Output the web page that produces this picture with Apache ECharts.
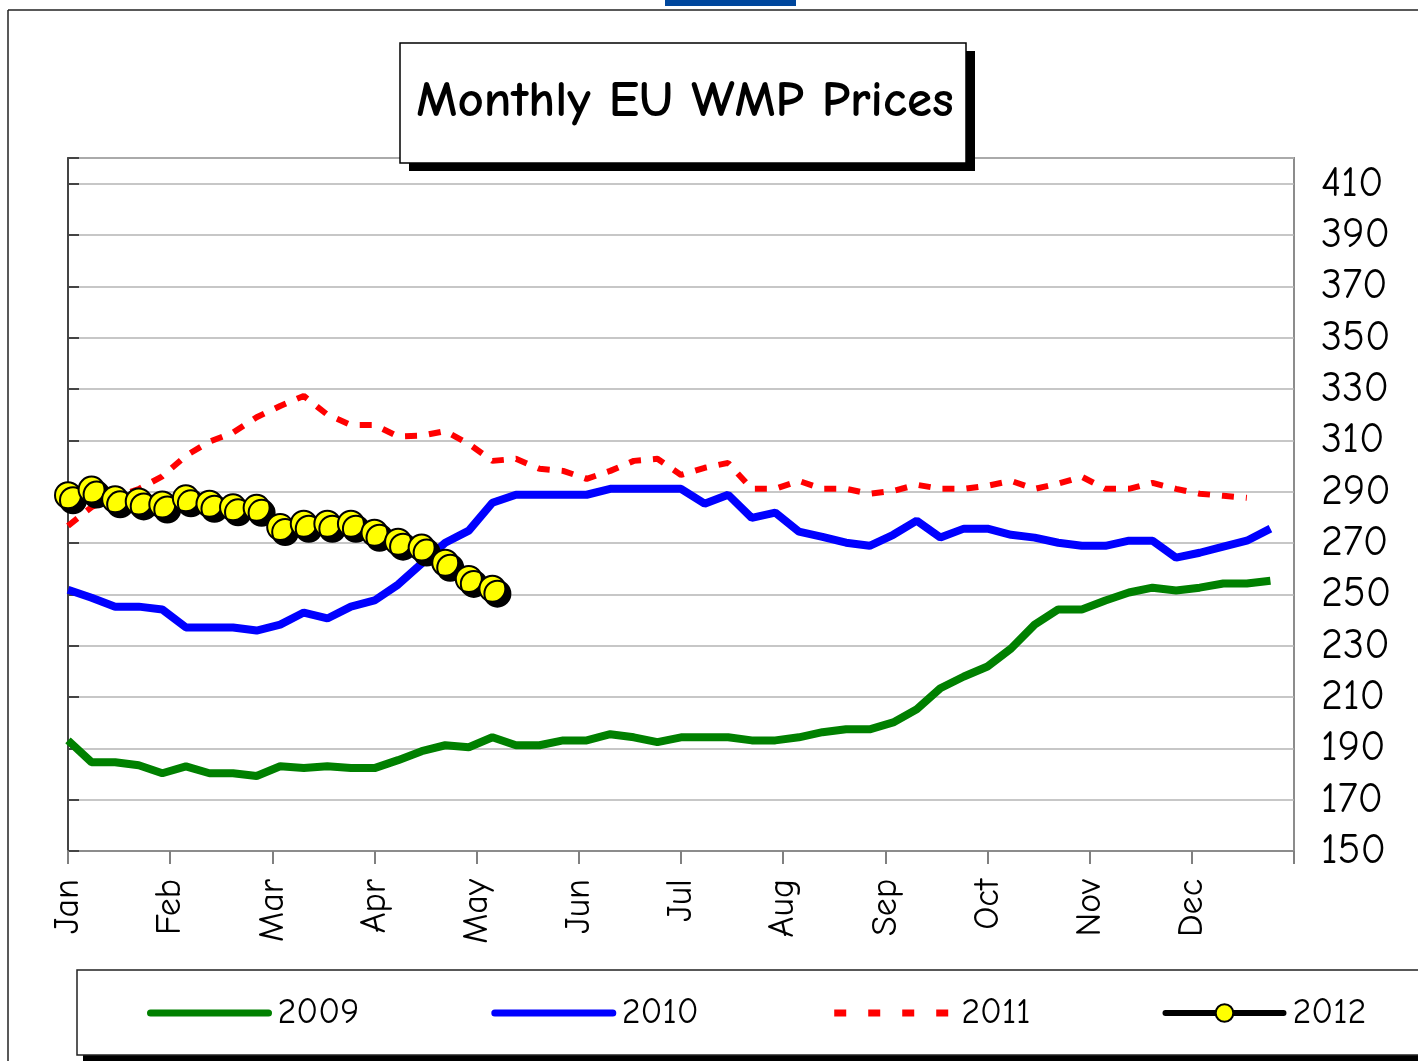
<!DOCTYPE html>
<html>
<head>
<meta charset="utf-8">
<title>Monthly EU WMP Prices</title>
<script src="https://cdn.jsdelivr.net/npm/echarts@6.0.0/dist/echarts.min.js"></script>
<style>
  html, body { margin: 0; padding: 0; background: #fff; }
  #chart { width: 1418px; height: 1061px; }
</style>
</head>
<body>
<div id="chart"></div>
<script>
// weekly prices, week 0 = start of Jan
var months = ['Jan', 'Feb', 'Mar', 'Apr', 'May', 'Jun', 'Jul', 'Aug', 'Sep', 'Oct', 'Nov', 'Dec'];
var yTicks = [150, 170, 190, 210, 230, 250, 270, 290, 310, 330, 350, 370, 390, 410];

var y2009 = [193.1, 184.6, 184.6, 183.4, 180.3, 183, 180.3, 180.3, 179.2, 183, 182.3, 183, 182.3,
  182.3, 185.4, 188.9, 191.2, 190.4, 194.3, 191.2, 191.2, 193.1, 193.1, 195.5, 194.3, 192.4,
  194.3, 194.3, 194.3, 193.1, 193.1, 194.3, 196.3, 197.4, 197.4, 200.1, 205.2, 213.4, 218,
  221.9, 228.9, 238.2, 244.1, 244.1, 247.6, 250.7, 252.6, 251.5, 252.6, 254.2, 254.2, 255.3];
var y2010 = [251.8, 248.7, 245.2, 245.2, 244.1, 237.1, 237.1, 237.1, 235.9, 238.2, 242.9, 240.6,
  245.2, 247.6, 253.8, 262, 270.1, 274.8, 285.7, 288.8, 288.8, 288.8, 288.8, 291.1, 291.1, 291.1,
  291.1, 285.3, 288.8, 279.8, 281.8, 274.4, 272.4, 270.1, 268.9, 273.2, 278.7, 272.1, 275.6,
  275.6, 273.2, 272.1, 270.1, 268.9, 268.9, 270.9, 270.9, 264.3, 266.2, 268.6, 270.9, 275.6];
var y2011 = [276.7, 284, 288, 291, 296, 304, 309.5, 313, 319, 323.4, 327.3, 320, 316, 316, 311.5,
  311.8, 313.6, 308.6, 302, 302.8, 298.9, 298.1, 295, 298.1, 302, 302.8, 296.5, 299.3, 301.2,
  291.1, 291.1, 294.2, 291.1, 291.1, 289.2, 290.3, 292.7, 291.1, 291.1, 292.3, 294.2, 291.1,
  293.1, 295.8, 291.1, 291.1, 293.4, 291.1, 289.2, 288.4, 287.6];
var y2012 = [288.6, 290.8, 287, 286.2, 285, 287.4, 285.3, 283.9, 283.7, 276.2, 277.5, 277.5,
  277.5, 274, 270.5, 268.2, 262.3, 256, 252.2];

function weekly(values) {
  return values.map(function (v, i) { return [i, v]; });
}

var FONT = '"Comic Sans MS", "Comic Neue", "DejaVu Sans", sans-serif';
var weekSpan = 52;

var chart = echarts.init(document.getElementById('chart'), null, { renderer: 'canvas' });

var noMark = { opacity: 0 };

var option = {
  backgroundColor: '#ffffff',
  animation: false,
  grid: {
    left: 68, top: 158, right: 124, bottom: 210,
    show: true, borderColor: '#8c8c8c', borderWidth: 2, backgroundColor: 'transparent'
  },
  xAxis: {
    type: 'value',
    min: 0, max: weekSpan, interval: weekSpan / 12,
    axisLine: { show: true, lineStyle: { color: '#8c8c8c', width: 2 } },
    axisTick: { show: true, length: 13, lineStyle: { color: '#808080', width: 2 } },
    splitLine: { show: false },
    axisLabel: {
      rotate: 90, margin: 28, color: '#000', fontSize: 36, fontFamily: FONT,
      formatter: function (v) {
        var m = Math.round(v / (weekSpan / 12));
        return m < 12 ? months[m] : '';
      }
    }
  },
  yAxis: {
    type: 'value', position: 'right',
    min: yTicks[0], max: 420, interval: 20,
    axisLine: { show: true, lineStyle: { color: '#444', width: 2 } },
    axisTick: { show: true, inside: false, length: 11, lineStyle: { color: '#444', width: 2 } },
    splitLine: { show: true, lineStyle: { color: '#b4b4b4', width: 1.5 } },
    axisLabel: {
      margin: 27, color: '#000', fontSize: 42, fontFamily: FONT,
      formatter: function (v) { return yTicks.indexOf(v) >= 0 ? String(v) : ''; }
    }
  },
  legend: {
    left: 142, top: 990, itemWidth: 118, itemHeight: 22, itemGap: 132,
    textStyle: { fontSize: 36, fontFamily: FONT, color: '#000', padding: [0, 0, 0, 4] },
    data: [
      { name: '2009', itemStyle: noMark, lineStyle: { width: 7, cap: 'round' } },
      { name: '2010', itemStyle: noMark, lineStyle: { width: 7, cap: 'round' } },
      { name: '2011', itemStyle: noMark, lineStyle: { width: 7, type: [12, 22], cap: 'butt' } },
      { name: '2012', lineStyle: { width: 6, cap: 'round' }, itemStyle: { shadowOffsetX: 0, shadowOffsetY: 0, borderWidth: 2 } }
    ]
  },
  series: [
    {
      name: '2009', type: 'line', data: weekly(y2009), symbol: 'none',
      lineStyle: { color: '#008000', width: 8 }, itemStyle: { color: '#008000' }, z: 2
    },
    {
      name: '2010', type: 'line', data: weekly(y2010), symbol: 'none',
      lineStyle: { color: '#0000ff', width: 8 }, itemStyle: { color: '#0000ff' }, z: 3
    },
    {
      name: '2011', type: 'line', data: weekly(y2011), symbol: 'none',
      lineStyle: { color: '#ff0000', width: 6, type: [12, 12], cap: 'butt' },
      itemStyle: { color: '#ff0000' }, z: 4
    },
    {
      name: '2012', type: 'line', data: weekly(y2012),
      symbol: 'circle', symbolSize: 26,
      lineStyle: { color: '#000', width: 4 },
      itemStyle: {
        color: '#ffff00', borderColor: '#000', borderWidth: 2,
        shadowColor: '#000', shadowBlur: 0, shadowOffsetX: 5, shadowOffsetY: 5
      },
      z: 5
    }
  ],
  graphic: [
    // page frame
    { type: 'line', shape: { x1: 8, y1: 10, x2: 1418, y2: 10 }, style: { stroke: '#222', lineWidth: 1.5 }, z: 0 },
    { type: 'line', shape: { x1: 8, y1: 10, x2: 8, y2: 1061 }, style: { stroke: '#222', lineWidth: 1.5 }, z: 0 },
    { type: 'rect', shape: { x: 665, y: 0, width: 131, height: 6 }, style: { fill: '#00479d' }, z: 0 },
    // title box
    { type: 'rect', shape: { x: 409, y: 51, width: 566, height: 120 }, style: { fill: '#000' }, z: 100 },
    { type: 'rect', shape: { x: 400, y: 43, width: 566, height: 120 }, style: { fill: '#fff', stroke: '#000', lineWidth: 1.5 }, z: 101 },
    {
      type: 'text', x: 685, y: 102, z: 102,
      style: { text: 'Monthly EU WMP Prices', fill: '#000', font: 'bold 51px ' + FONT, align: 'center', verticalAlign: 'middle' }
    },
    // legend box
    { type: 'rect', shape: { x: 83, y: 976, width: 1400, height: 85 }, style: { fill: '#000' }, z: -1 },
    { type: 'rect', shape: { x: 77, y: 970, width: 1400, height: 85 }, style: { fill: '#fff', stroke: '#222', lineWidth: 1.5 }, z: -1 }
  ]
};

chart.setOption(option);
</script>
</body>
</html>
